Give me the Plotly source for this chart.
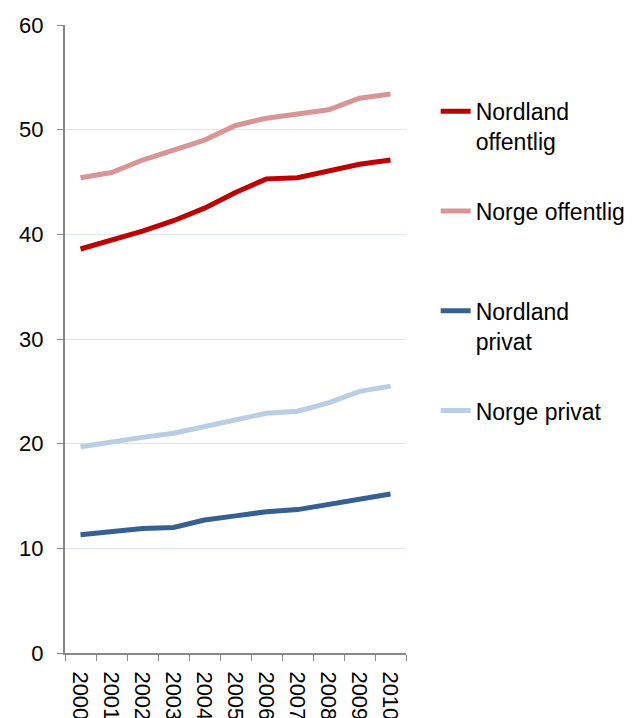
import plotly.graph_objects as go

years = ["2000", "2001", "2002", "2003", "2004", "2005", "2006", "2007", "2008", "2009", "2010"]

nordland_offentlig = [38.6, 39.4, 40.3, 41.3, 42.5, 44.0, 45.3, 45.4, 46.0, 46.7, 47.1]
norge_offentlig = [45.4, 45.9, 47.1, 48.0, 49.0, 50.4, 51.1, 51.5, 51.9, 53.0, 53.4]
nordland_privat = [11.3, 11.6, 11.9, 12.0, 12.7, 13.1, 13.5, 13.7, 14.2, 14.8, 15.2]
norge_privat = [19.7, 20.2, 20.6, 21.0, 21.6, 22.2, 22.9, 23.1, 23.9, 25.0, 25.5]

series = [
    ("Nordland<br>offentlig", nordland_offentlig, "#c00000"),
    ("Norge offentlig<br> ", norge_offentlig, "#d99594"),
    ("Nordland<br>privat", nordland_privat, "#376092"),
    ("Norge privat<br> ", norge_privat, "#b9cde5"),
]

font = "Liberation Sans, Arial, sans-serif"

fig = go.Figure()
for i, (name, vals, col) in enumerate(series):
    fig.add_trace(go.Scatter(
        x=years, y=vals, name=name, mode="lines",
        line=dict(color=col, width=5),
        legendgroup=str(i),
    ))

# page body adds ~8px offset, so margins are shifted to compensate
fig.update_layout(
    width=635, height=718,
    margin=dict(l=57, r=235, t=17, b=73),
    plot_bgcolor="white", paper_bgcolor="white",
    font=dict(family=font, size=22, color="black"),
    legend=dict(
        x=1.087, y=0.897, xanchor="left", yanchor="top",
        font=dict(size=23), valign="top",
        tracegroupgap=37, bgcolor="rgba(0,0,0,0)",
    ),
)
fig.update_xaxes(
    type="category", range=[-0.5, 10.5], automargin=False,
    tickson="boundaries", ticks="outside", ticklen=6, tickcolor="#888888",
    showline=True, linecolor="#888888", linewidth=2,
    showgrid=False, tickangle=90, ticklabelstandoff=12,
)
fig.update_yaxes(
    range=[0, 60], dtick=10, automargin=False,
    ticks="outside", ticklen=6, tickcolor="#888888",
    showline=True, linecolor="#888888", linewidth=2,
    showgrid=True, gridcolor="#dce6f2", gridwidth=1,
    zeroline=False, ticklabelstandoff=9,
)

fig.write_html("out.html")
